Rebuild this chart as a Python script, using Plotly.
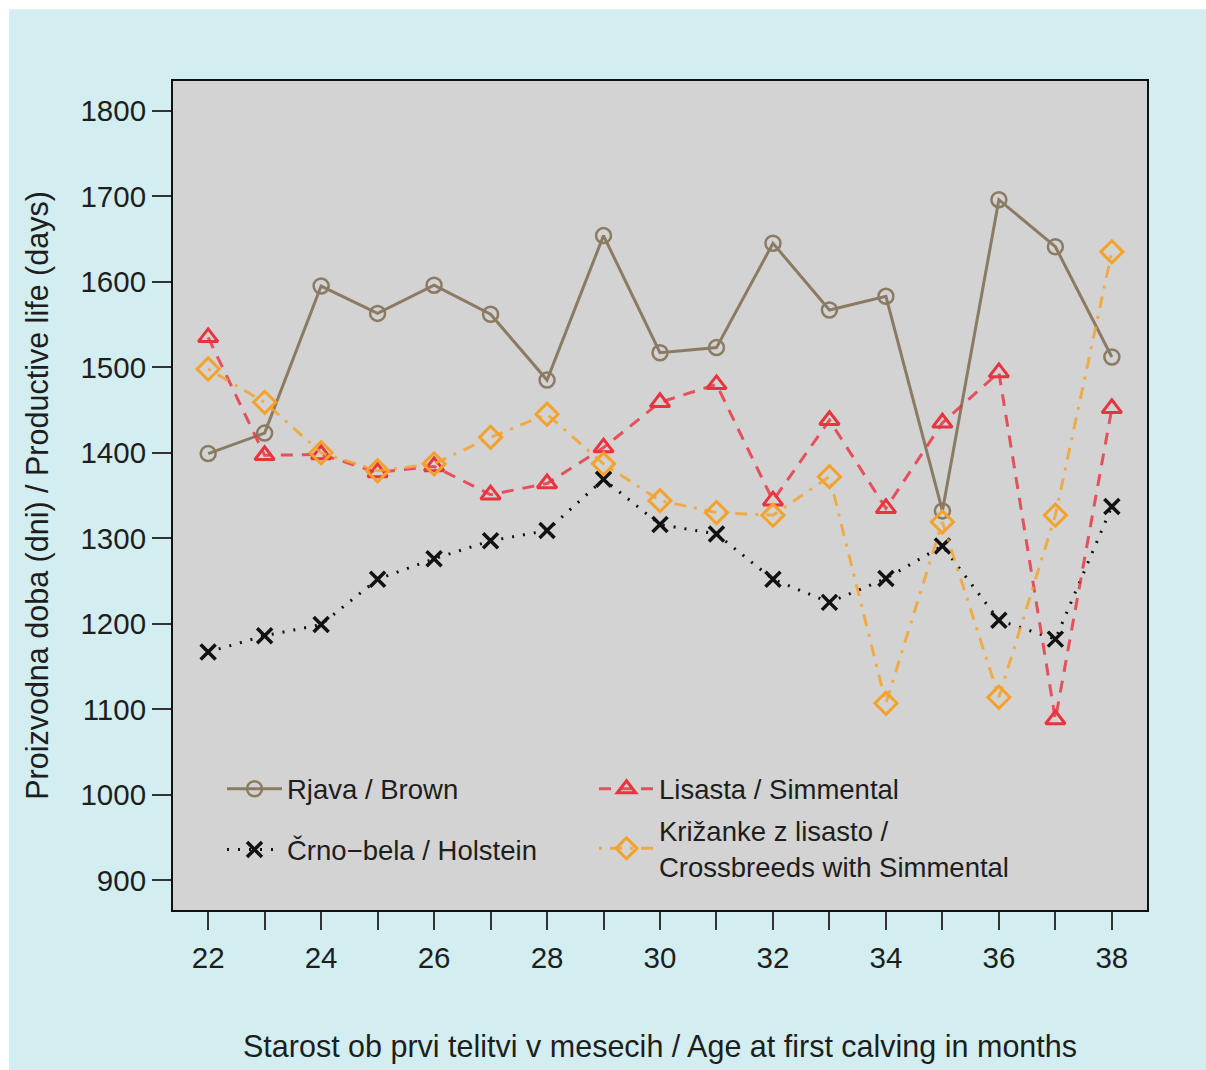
import plotly.graph_objects as go

# Age at first calving (months)
ages = [22, 23, 24, 25, 26, 27, 28, 29, 30, 31, 32, 33, 34, 35, 36, 37, 38]

# Productive life (days) per breed
brown = [1399, 1423, 1595, 1563, 1596, 1562, 1485, 1654, 1517, 1523, 1645, 1567, 1583, 1332, 1696, 1641, 1512]
holstein = [1167, 1186, 1199, 1252, 1276, 1297, 1309, 1369, 1316, 1305, 1252, 1225, 1253, 1291, 1204, 1182, 1337]
simmental = [1535, 1397, 1398, 1377, 1384, 1351, 1364, 1406, 1459, 1480, 1344, 1438, 1335, 1435, 1494, 1088, 1452]
crossbreds = [1498, 1459, 1400, 1379, 1387, 1418, 1445, 1387, 1344, 1330, 1327, 1372, 1107, 1319, 1114, 1327, 1635]

names = {
    "brown": "Rjava / Brown",
    "holstein": "Črno−bela / Holstein",
    "simmental": "Lisasta / Simmental",
    "crossbreds": "Križanke z lisasto /<br>Crossbreeds with Simmental",
}

x_tick_vals = [22, 23, 24, 25, 26, 27, 28, 29, 30, 31, 32, 33, 34, 35, 36, 37, 38]
x_tick_text = ["22", "", "24", "", "26", "", "28", "", "30", "", "32", "", "34", "", "36", "", "38"]
y_tick_vals = [900, 1000, 1100, 1200, 1300, 1400, 1500, 1600, 1700, 1800]

BROWN = "#8b7b63"
RED = "#e8343f"
ORANGE = "#f4a22a"
FONT = "Liberation Sans, Arial, sans-serif"
TXT = "#1e1e1e"

fig = go.Figure()

fig.add_trace(go.Scatter(
    x=ages, y=brown, name=names["brown"], mode="lines+markers",
    line=dict(color=BROWN, width=3),
    marker=dict(symbol="circle-open", size=15, color=BROWN, line=dict(width=2.5, color=BROWN)),
    legend="legend", legendgroup="a",
))
fig.add_trace(go.Scatter(
    x=ages, y=holstein, name=names["holstein"], mode="lines+markers",
    line=dict(color="#111111", width=3, dash="2px,9px"),
    marker=dict(symbol="x-thin", size=15, color="#111111", line=dict(width=3.5, color="#111111")),
    legend="legend", legendgroup="b",
))
fig.add_trace(go.Scatter(
    x=ages, y=simmental, name=names["simmental"], mode="lines+markers",
    line=dict(color="rgba(232,52,63,0.82)", width=3, dash="12px,9px"),
    marker=dict(symbol="triangle-up-open", size=17, color=RED, line=dict(width=3, color=RED)),
    legend="legend2", legendgroup="c",
))
fig.add_trace(go.Scatter(
    x=ages, y=crossbreds, name=names["crossbreds"], mode="lines+markers",
    line=dict(color="rgba(244,162,42,0.82)", width=3, dash="3px,8px,12px,8px"),
    marker=dict(symbol="diamond-open", size=17, color=ORANGE, line=dict(width=3, color=ORANGE)),
    legend="legend2", legendgroup="d",
))

# plot area geometry in pixels
W, H = 1206, 1070
L, R, T, B = 172, 58, 80, 157
pw, ph = W - L - R, H - T - B

def px_x(p):
    return (p - L) / pw

def px_y(p):
    return (H - B - p) / ph

fig.update_layout(
    width=W, height=H,
    margin=dict(l=L, r=R, t=T, b=B, pad=0),
    paper_bgcolor="white",
    plot_bgcolor="rgba(0,0,0,0)",
    font=dict(family=FONT, color=TXT, size=29),
    showlegend=True,
    shapes=[
        # light cyan panel
        dict(type="rect", xref="paper", yref="paper", layer="below",
             x0=px_x(9), x1=px_x(W + 5), y0=px_y(H + 5), y1=px_y(9),
             fillcolor="#d3eef0", line=dict(width=0)),
        # gray plotting region with frame
        dict(type="rect", xref="paper", yref="paper", layer="below",
             x0=0, x1=1, y0=0, y1=1,
             fillcolor="#d3d3d3", line=dict(width=2, color="#111111")),
    ],
    legend=dict(
        x=px_x(222), y=px_y(766), xanchor="left", yanchor="top",
        orientation="v", bgcolor="rgba(0,0,0,0)", borderwidth=0,
        font=dict(family=FONT, size=27.5, color=TXT),
        itemwidth=55, tracegroupgap=22, traceorder="grouped",
    ),
    legend2=dict(
        x=px_x(594), y=px_y(766), xanchor="left", yanchor="top",
        orientation="v", bgcolor="rgba(0,0,0,0)", borderwidth=0,
        font=dict(family=FONT, size=27.5, color=TXT),
        itemwidth=55, tracegroupgap=3, traceorder="grouped",
    ),
    xaxis=dict(
        range=[21.36, 38.64], showgrid=False, zeroline=False,
        tickmode="array", tickvals=x_tick_vals, ticktext=x_tick_text,
        ticks="outside", ticklen=18, tickwidth=2, tickcolor="#333333",
        tickfont=dict(size=29.5, color=TXT), showline=False, ticklabelstandoff=3,
        title=dict(text="Starost ob prvi telitvi v mesecih / Age at first calving in months",
                   font=dict(size=30.5, color=TXT), standoff=62),
    ),
    yaxis=dict(
        range=[864, 1836], showgrid=False, zeroline=False,
        tickmode="array", tickvals=y_tick_vals,
        ticks="outside", ticklen=19, tickwidth=2, tickcolor="#333333",
        tickfont=dict(size=29.5, color=TXT), showline=False,
        title=dict(text="Proizvodna doba (dni) / Productive life (days)",
                   font=dict(size=30.5, color=TXT), standoff=22),
    ),
)

fig.write_html("out.html")
